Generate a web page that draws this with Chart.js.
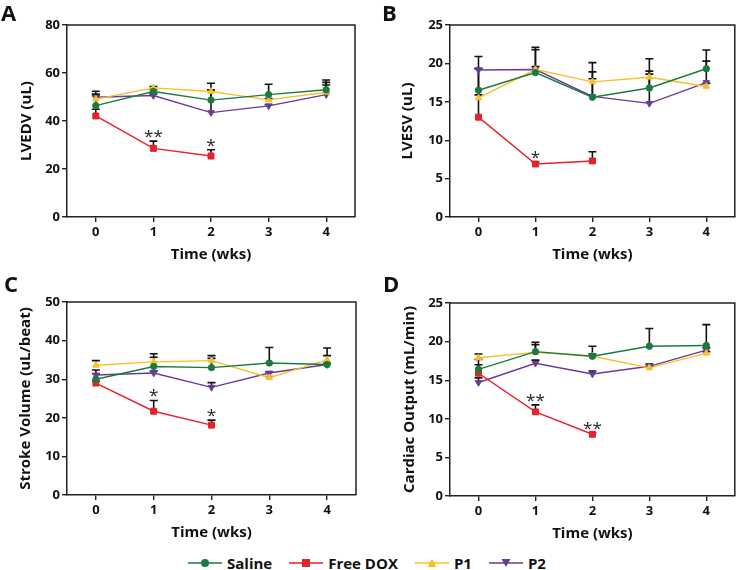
<!DOCTYPE html>
<html>
<head>
<meta charset="utf-8">
<script src="https://cdn.jsdelivr.net/npm/chart.js@4.4.1/dist/chart.umd.min.js"></script>
<style>
  body { margin: 0; background: #fff; font-family: "Open Sans", sans-serif; }
  #lienzo { position: relative; width: 740px; height: 570px; overflow: hidden; }
  #lienzo canvas { position: absolute; }
  .letra { position: absolute; font-weight: 700; font-size: 22px; line-height: 22px; color: #111; }
  .leyenda { position: absolute; left: 188px; top: 553px; display: flex; gap: 17px; align-items: center; }
  .item { display: flex; align-items: center; gap: 5px; font-weight: 700; font-size: 15px; color: #111; line-height: 20px; }
</style>
</head>
<body>
<div id="lienzo"></div>
<script>
/* DATOS */
const semanas = [0, 1, 2, 3, 4];
const grupos = ['Saline', 'Free DOX', 'P1', 'P2'];

// A - LVEDV
const lvedvTicks = [0, 20, 40, 60, 80];
const lvedvSaline = [46.4, 52.3, 48.7, 51.0, 53.0];
const lvedvSalineErr = [6.0, 0.8, 7.0, 4.3, 4.1];
const lvedvDox = [42.1, 28.6, 25.4, null, null];
const lvedvDoxErr = [2.8, 3.0, 2.6, null, null];
const lvedvP1 = [49.1, 53.8, 52.3, 48.8, 52.0];
const lvedvP1Err = [2.1, 0.6, 0.6, 0.6, 4.1];
const lvedvP2 = [49.9, 50.6, 43.5, 46.3, 51.0];
const lvedvP2Err = [0.6, 0.6, 9.4, 0.6, 4.0];
const lvedvSig = ['', '**', '*', '', ''];

// B - LVESV
const lvesvTicks = [0, 5, 10, 15, 20, 25];
const lvesvSaline = [16.5, 18.8, 15.6, 16.8, 19.3];
const lvesvSalineErr = [4.4, 3.3, 4.5, 2.2, 2.45];
const lvesvDox = [13.0, 6.9, 7.3, null, null];
const lvesvDoxErr = [6.3, 0.3, 1.2, null, null];
const lvesvP1 = [15.5, 19.2, 17.6, 18.2, 17.0];
const lvesvP1Err = [0.4, 0.4, 0.4, 0.4, 0.4];
const lvesvP2 = [19.15, 19.2, 15.7, 14.8, 17.5];
const lvesvP2Err = [0.2, 2.6, 3.2, 5.8, 2.8];
const lvesvSig = ['', '*', '', '', ''];

// C - Stroke Volume
const svTicks = [0, 10, 20, 30, 40, 50];
const svSaline = [30.0, 33.3, 33.0, 34.2, 33.8];
const svSalineErr = [2.4, 3.3, 3.1, 4.0, 4.3];
const svDox = [29.0, 21.7, 18.1, null, null];
const svDoxErr = [0.5, 2.8, 1.3, null, null];
const svP1 = [33.6, 34.5, 34.8, 30.4, 35.0];
const svP1Err = [1.2, 1.2, 0.6, 0.3, 1.1];
const svP2 = [31.1, 31.6, 27.9, 31.6, 33.8];
const svP2Err = [0.3, 0.5, 1.2, 0.3, 0.3];
const svSig = ['', '*', '*', '', ''];

// D - Cardiac Output
const coTicks = [0, 5, 10, 15, 20, 25];
const coSaline = [16.4, 18.7, 18.1, 19.4, 19.5];
const coSalineErr = [1.3, 1.2, 1.3, 2.3, 2.7];
const coDox = [15.9, 10.9, 8.0, null, null];
const coDoxErr = [1.1, 0.9, 0.2, null, null];
const coP1 = [17.9, 18.6, 18.1, 16.6, 18.5];
const coP1Err = [0.5, 1.0, 0.3, 0.2, 0.2];
const coP2 = [14.7, 17.2, 15.8, 16.8, 18.9];
const coP2Err = [0.6, 0.4, 0.4, 0.3, 0.3];
const coSig = ['', '**', '**', '', ''];

/* ESTILOS DE SERIE */
const colores = ['#1b7b3f', '#e42229', '#f6c02c', '#6a3b95'];
const formas = ['circle', 'rect', 'triangle', 'triangle'];
const giros = [0, 0, 0, 180];
const radios = [3.2, 4.2, 3.8, 3.8];

const lienzo = document.querySelector('#lienzo');

/* PLUGINS */
const barrasError = {
  id: 'barrasError',
  beforeDatasetsDraw(chart) {
    const ctx = chart.ctx;
    const y = chart.scales.y;
    ctx.save();
    ctx.strokeStyle = '#111';
    ctx.lineWidth = 1.6;
    chart.data.datasets.forEach((ds, i) => {
      const meta = chart.getDatasetMeta(i);
      ds.data.forEach((p, j) => {
        const err = ds.errores[j];
        if (p.y == null || err == null) return;
        const px = meta.data[j].x;
        const y0 = y.getPixelForValue(p.y);
        const y1 = y.getPixelForValue(p.y + err);
        ctx.beginPath();
        ctx.moveTo(px, y0);
        ctx.lineTo(px, y1);
        ctx.moveTo(px - 4, y1);
        ctx.lineTo(px + 4, y1);
        ctx.stroke();
      });
    });
    ctx.restore();
  }
};

const marco = {
  id: 'marco',
  afterDraw(chart) {
    const { ctx, chartArea: a } = chart;
    ctx.save();
    ctx.strokeStyle = '#222';
    ctx.lineWidth = 1.5;
    ctx.beginPath();
    ctx.moveTo(a.left, a.top);
    ctx.lineTo(a.right, a.top);
    ctx.lineTo(a.right, a.bottom);
    ctx.stroke();
    ctx.restore();
  }
};

const asteriscos = {
  id: 'asteriscos',
  afterDatasetsDraw(chart, args, opts) {
    const ctx = chart.ctx;
    const ds = chart.data.datasets[1];
    const meta = chart.getDatasetMeta(1);
    ctx.save();
    ctx.fillStyle = '#222';
    ctx.font = '17px "Open Sans"';
    ctx.textAlign = 'center';
    ctx.textBaseline = 'alphabetic';
    opts.marcas.forEach((m, j) => {
      if (!m) return;
      const p = ds.data[j];
      const tope = chart.scales.y.getPixelForValue(p.y + (ds.errores[j] || 0));
      ctx.fillText(m, meta.data[j].x, tope + 1);
    });
    ctx.restore();
  }
};

/* PANELES */
const fuenteTick = { family: 'Open Sans', size: 13, weight: '700' };
const fuenteTitulo = { family: 'Open Sans', size: 15, weight: '700' };

function crearPanel(p) {
  const canvas = document.createElement('canvas');
  canvas.width = p.w;
  canvas.height = p.h;
  canvas.style.left = p.left + 'px';
  canvas.style.top = p.top + 'px';
  lienzo.appendChild(canvas);

  const letra = document.createElement('div');
  letra.className = 'letra';
  letra.textContent = p.letra;
  letra.style.left = p.letraX + 'px';
  letra.style.top = p.letraY + 'px';
  lienzo.appendChild(letra);

  const datasets = grupos.map((g, i) => ({
    label: g,
    data: semanas.map((s, j) => ({ x: s, y: p.series[i][j] })),
    errores: p.errores[i],
    borderColor: colores[i],
    backgroundColor: colores[i],
    borderWidth: 1.4,
    pointStyle: formas[i],
    rotation: giros[i],
    pointRadius: radios[i],
    pointBorderWidth: 1,
    spanGaps: false,
    tension: 0
  }));

  new Chart(canvas.getContext('2d'), {
    type: 'line',
    data: { datasets },
    options: {
      responsive: false,
      animation: false,
      layout: { padding: { top: p.padTop, right: p.padRight, left: 0, bottom: 0 } },
      plugins: {
        legend: { display: false },
        tooltip: { enabled: false },
        asteriscos: { marcas: p.sig }
      },
      scales: {
        x: {
          type: 'linear',
          min: -0.5,
          max: 4.5,
          afterBuildTicks: s => { s.ticks = semanas.map(v => ({ value: v })); },
          afterFit: s => { s.height = 53; },
          grid: { drawOnChartArea: false, drawTicks: true, tickLength: 5, color: '#222', lineWidth: 1.4 },
          border: { color: '#222', width: 1.5 },
          ticks: { color: '#111', font: fuenteTick, padding: 2, autoSkip: false, maxRotation: 0 },
          title: { display: true, text: 'Time (wks)', color: '#111', font: fuenteTitulo, padding: { top: 0, bottom: 6 } }
        },
        y: {
          type: 'linear',
          min: p.ticks[0],
          max: p.ticks[p.ticks.length - 1],
          afterBuildTicks: s => { s.ticks = p.ticks.map(v => ({ value: v })); },
          afterFit: s => { s.width = p.yWidth; },
          grid: { drawOnChartArea: false, drawTicks: true, tickLength: 5, color: '#222', lineWidth: 1.4 },
          border: { color: '#222', width: 1.5 },
          ticks: { color: '#111', font: fuenteTick, padding: 2 },
          title: { display: true, text: p.tituloY, color: '#111', font: fuenteTitulo, padding: { top: p.tituloPad, bottom: 0 } }
        }
      }
    },
    plugins: [barrasError, marco, asteriscos]
  });
}

crearPanel({
  letra: 'A', letraX: 1, letraY: 1,
  left: 0, top: 0, w: 365, h: 270, padTop: 25, padRight: 10, yWidth: 67, tituloPad: 18,
  tituloY: 'LVEDV (uL)', ticks: lvedvTicks, sig: lvedvSig,
  series: [lvedvSaline, lvedvDox, lvedvP1, lvedvP2],
  errores: [lvedvSalineErr, lvedvDoxErr, lvedvP1Err, lvedvP2Err]
});

crearPanel({
  letra: 'B', letraX: 382, letraY: 1,
  left: 370, top: 0, w: 370, h: 270, padTop: 25, padRight: 2, yWidth: 80, tituloPad: 29,
  tituloY: 'LVESV (uL)', ticks: lvesvTicks, sig: lvesvSig,
  series: [lvesvSaline, lvesvDox, lvesvP1, lvesvP2],
  errores: [lvesvSalineErr, lvesvDoxErr, lvesvP1Err, lvesvP2Err]
});

crearPanel({
  letra: 'C', letraX: 4, letraY: 272,
  left: 0, top: 270, w: 365, h: 278, padTop: 32, padRight: 9, yWidth: 67, tituloPad: 17,
  tituloY: 'Stroke Volume (uL/beat)', ticks: svTicks, sig: svSig,
  series: [svSaline, svDox, svP1, svP2],
  errores: [svSalineErr, svDoxErr, svP1Err, svP2Err]
});

crearPanel({
  letra: 'D', letraX: 383, letraY: 272,
  left: 370, top: 270, w: 370, h: 279, padTop: 33, padRight: 1, yWidth: 80, tituloPad: 31,
  tituloY: 'Cardiac Output (mL/min)', ticks: coTicks, sig: coSig,
  series: [coSaline, coDox, coP1, coP2],
  errores: [coSalineErr, coDoxErr, coP1Err, coP2Err]
});

/* LEYENDA */
const leyenda = document.createElement('div');
leyenda.className = 'leyenda';
const svgNS = 'http://www.w3.org/2000/svg';
grupos.forEach((g, i) => {
  const item = document.createElement('div');
  item.className = 'item';
  const svg = document.createElementNS(svgNS, 'svg');
  svg.setAttribute('width', '34');
  svg.setAttribute('height', '12');
  const linea = document.createElementNS(svgNS, 'line');
  linea.setAttribute('x1', '0'); linea.setAttribute('x2', '34');
  linea.setAttribute('y1', '6'); linea.setAttribute('y2', '6');
  linea.setAttribute('stroke', colores[i]);
  linea.setAttribute('stroke-width', '1.4');
  svg.appendChild(linea);
  let marca;
  if (formas[i] === 'circle') {
    marca = document.createElementNS(svgNS, 'circle');
    marca.setAttribute('cx', '17'); marca.setAttribute('cy', '6'); marca.setAttribute('r', '4');
  } else if (formas[i] === 'rect') {
    marca = document.createElementNS(svgNS, 'rect');
    marca.setAttribute('x', '13'); marca.setAttribute('y', '2');
    marca.setAttribute('width', '8'); marca.setAttribute('height', '8');
  } else {
    marca = document.createElementNS(svgNS, 'polygon');
    marca.setAttribute('points', giros[i] ? '12.5,2 21.5,2 17,10' : '17,2 21.5,10 12.5,10');
  }
  marca.setAttribute('fill', colores[i]);
  svg.appendChild(marca);
  item.appendChild(svg);
  const texto = document.createElement('span');
  texto.textContent = g;
  item.appendChild(texto);
  leyenda.appendChild(item);
});
lienzo.appendChild(leyenda);
</script>
</body>
</html>
